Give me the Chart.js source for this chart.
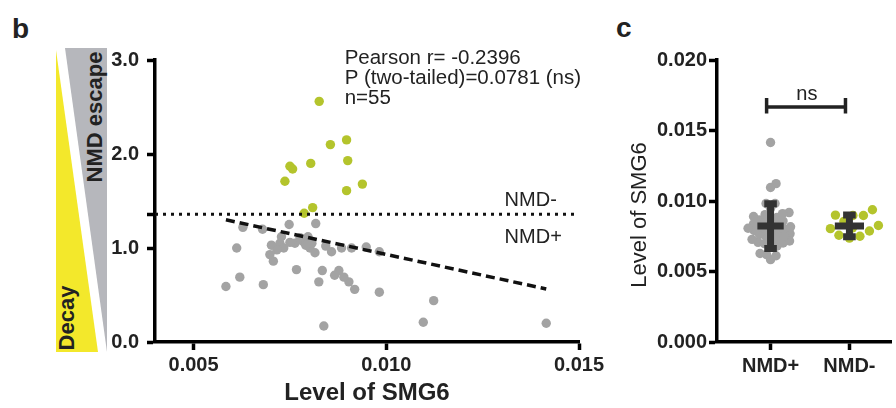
<!DOCTYPE html>
<html><head><meta charset="utf-8">
<script src="https://cdn.jsdelivr.net/npm/chart.js@4.4.1/dist/chart.umd.min.js"></script>
<style>
html,body{margin:0;padding:0;background:#fff;}
#wrap{position:relative;width:896px;height:408px;overflow:hidden;}
#deco{position:absolute;left:0;top:0;}
#left{position:absolute;left:0;top:0;}
#right{position:absolute;left:610px;top:0;}
</style></head><body>
<div id="wrap">
<svg id="deco" width="896" height="408" font-family="Liberation Sans, Arial, sans-serif">
  <polygon points="56,50 56,352 98,352" fill="#f3e82b"/>
  <polygon points="65,48 107,48 107,352" fill="#b6b7bc"/>
  <text x="12" y="38" font-size="28" font-weight="bold" fill="#222">b</text>
  <text x="616" y="37" font-size="28" font-weight="bold" fill="#222">c</text>
  <text transform="translate(94,117) rotate(-90)" text-anchor="middle" dominant-baseline="central" font-size="22" font-weight="bold" fill="#222">NMD escape</text>
  <text transform="translate(66,318) rotate(-90)" text-anchor="middle" dominant-baseline="central" font-size="22" font-weight="bold" fill="#222">Decay</text>
</svg>
<canvas id="left" width="610" height="408"></canvas>
<canvas id="right" width="286" height="408"></canvas>
</div>
<script>
// ---------- data ----------
const grayLevel = [0.00584,0.00620,0.00612,0.00628,0.00679,0.00681,0.00707,0.00702,0.00724,0.00728,
  0.00748,0.00767,0.00763,0.00784,0.00797,0.00802,0.00815,0.00817,0.00834,0.00825,
  0.00858,0.00877,0.00866,0.00884,0.00903,0.00918,0.00910,0.00948,0.00982,0.00982,
  0.00838,0.01123,0.01096,0.01415,0.00791,0.00776,0.00734,0.00716,0.00807,0.00890,
  0.00750,0.00698,0.00843];
const grayRatio = [0.59,0.69,1.00,1.22,1.20,0.61,0.86,1.03,1.05,1.12,
  1.25,0.77,1.05,1.07,1.12,1.00,0.95,1.26,0.76,0.64,
  0.96,0.76,0.71,1.00,0.64,0.56,1.00,1.01,0.96,0.53,
  0.17,0.44,0.21,0.20,1.03,1.11,1.00,0.98,1.05,0.69,
  1.06,0.93,1.02];
const greenLevel = [0.00826,0.00855,0.00897,0.00750,0.00757,0.00804,0.00900,0.00737,0.00938,0.00897,0.00787,0.00809];
const greenRatio = [2.56,2.10,2.15,1.87,1.84,1.90,1.93,1.71,1.68,1.61,1.37,1.43];
const threshold = 1.36;
const regressionX = [0.00584,0.01415];
const regressionY = [1.30,0.564];
const xTicksLeft = [0.005,0.010,0.015];
const yTicksLeft = [0,1,2,3];
const categories = ['NMD+','NMD-'];
const groupMean = [0.00822,0.00823];
const groupSD = [0.00159,0.00077];
const yTicksRight = [0,0.005,0.010,0.015,0.020];
const statsText = ['Pearson r= -0.2396','P (two-tailed)=0.0781 (ns)','n=55'];

// ---------- styles ----------
const F = '"Liberation Sans", Arial, sans-serif';
const GRAY = '#a3a3a3', GREEN = '#b4c42c', INK = '#222';
const axisCommon = {
  border:{display:true,color:'#000',width:3.5},
  grid:{display:true,drawOnChartArea:false,drawTicks:true,tickLength:8,tickWidth:3.5,tickColor:'#000'}
};

// ---------- left chart ----------
const leftText = {
  id:'leftText',
  afterDraw(chart){
    const {ctx, scales:{x,y}} = chart;
    ctx.save();
    ctx.fillStyle = INK;
    ctx.font = '20.5px ' + F;
    ctx.textBaseline = 'middle';
    ctx.textAlign = 'left';
    const sx = x.getPixelForValue(0.00892);
    [3.02,2.80,2.59].forEach((v,i)=>ctx.fillText(statsText[i], sx, y.getPixelForValue(v)));
    ctx.font = '20px ' + F;
    const nx = x.getPixelForValue(0.01307);
    ctx.fillText('NMD-', nx, y.getPixelForValue(1.51));
    ctx.fillText('NMD+', nx, y.getPixelForValue(1.117));
    ctx.restore();
  }
};

new Chart(document.getElementById('left'), {
  type:'scatter',
  data:{datasets:[
    {label:'threshold', showLine:true, data:[{x:0.004,y:threshold},{x:0.015,y:threshold}],
      borderColor:'#111', borderWidth:3, borderDash:[3,5], pointRadius:0, order:0},
    {label:'regression', showLine:true, data:regressionX.map((v,i)=>({x:v,y:regressionY[i]})),
      borderColor:'#111', borderWidth:3.5, borderDash:[9,5], pointRadius:0, order:1},
    {label:'NMD-', data:greenLevel.map((v,i)=>({x:v,y:greenRatio[i]})),
      backgroundColor:GREEN, borderWidth:0, pointRadius:4.7, order:2},
    {label:'NMD+', data:grayLevel.map((v,i)=>({x:v,y:grayRatio[i]})),
      backgroundColor:GRAY, borderWidth:0, pointRadius:4.7, order:3}
  ]},
  options:{
    responsive:false, animation:false, events:[],
    layout:{padding:{left:0,top:60,right:31,bottom:0}},
    plugins:{legend:{display:false},tooltip:{enabled:false}},
    scales:{
      x:{type:'linear',min:0.004,max:0.015,...axisCommon,
        afterBuildTicks:s=>{s.ticks = xTicksLeft.map(v=>({value:v}));},
        afterFit:s=>{s.height = 66;},
        ticks:{font:{family:F,size:20,weight:'bold'},color:INK,padding:3,maxRotation:0,callback:v=>v.toFixed(3)},
        title:{display:true,text:'Level of SMG6',font:{family:F,size:24,weight:'bold'},color:INK,padding:{top:0,bottom:0}}},
      y:{type:'linear',min:0,max:3,...axisCommon,
        afterBuildTicks:s=>{s.ticks = yTicksLeft.concat([threshold]).sort((a,b)=>a-b).map(v=>({value:v}));},
        afterFit:s=>{s.width = 155;},
        ticks:{font:{family:F,size:20,weight:'bold'},color:INK,padding:8,callback:v=>Number.isInteger(v)?v.toFixed(1):''}}
    }
  },
  plugins:[leftText]
});

// ---------- right chart ----------
function errorPath(cx, m, sd, halfBar, halfCap){
  return [{x:cx-halfBar,y:m},{x:cx+halfBar,y:m},{x:cx,y:null},
          {x:cx,y:m+sd},{x:cx,y:m-sd},{x:cx,y:null},
          {x:cx-halfCap,y:m+sd},{x:cx+halfCap,y:m+sd},{x:cx,y:null},
          {x:cx-halfCap,y:m-sd},{x:cx+halfCap,y:m-sd}];
}
const rightText = {
  id:'rightText',
  afterDraw(chart){
    const {ctx, scales:{x,y}} = chart;
    ctx.save();
    ctx.fillStyle = INK;
    ctx.font = '20px ' + F;
    ctx.textAlign = 'center';
    ctx.textBaseline = 'middle';
    ctx.fillText('ns', x.getPixelForValue(1.46), y.getPixelForValue(0.01752));
    ctx.translate(30, 215);
    ctx.rotate(-Math.PI/2);
    ctx.font = '22px ' + F;
    ctx.fillText('Level of SMG6', 0, 0);
    ctx.restore();
  }
};

const rightChart = new Chart(document.getElementById('right'), {
  type:'scatter',
  data:{datasets:[
    {label:'NMD+ mean±SD', showLine:true, spanGaps:false, data:errorPath(1,groupMean[0],groupSD[0],0.167,0.08),
      borderColor:'#333', borderWidth:7, borderCapStyle:'butt', pointRadius:0, order:0},
    {label:'NMD- mean±SD', showLine:true, spanGaps:false, data:errorPath(2,groupMean[1],groupSD[1],0.185,0.08),
      borderColor:'#333', borderWidth:7, borderCapStyle:'butt', pointRadius:0, order:1},
    {label:'bracket', showLine:true, spanGaps:false,
      data:[{x:0.95,y:0.0173},{x:0.95,y:0.0162},{x:0.95,y:null},{x:0.95,y:0.01667},{x:1.95,y:0.01667},{x:1.95,y:null},{x:1.95,y:0.0173},{x:1.95,y:0.0162}],
      borderColor:'#222', borderWidth:3.5, pointRadius:0, order:2},
    {label:'NMD+', data:grayLevel.map(v=>({x:1,y:v})), backgroundColor:GRAY, borderWidth:0, pointRadius:4.7, order:3},
    {label:'NMD-', data:greenLevel.map(v=>({x:2,y:v})), backgroundColor:GREEN, borderWidth:0, pointRadius:4.7, order:4}
  ]},
  options:{
    responsive:false, animation:false, events:[],
    layout:{padding:{left:0,top:60,right:0,bottom:0}},
    plugins:{legend:{display:false},tooltip:{enabled:false}},
    scales:{
      x:{type:'linear',min:0.321,max:2.531,...axisCommon,
        afterBuildTicks:s=>{s.ticks = categories.map((c,i)=>({value:i+1}));},
        afterFit:s=>{s.height = 66;},
        ticks:{font:{family:F,size:20,weight:'bold'},color:INK,padding:4,maxRotation:0,callback:v=>categories[Math.round(v)-1] || ''}},
      y:{type:'linear',min:0,max:0.02,...axisCommon,
        afterBuildTicks:s=>{s.ticks = yTicksRight.map(v=>({value:v}));},
        afterFit:s=>{s.width = 107;},
        ticks:{font:{family:F,size:20,weight:'bold'},color:INK,padding:2,callback:v=>v.toFixed(3)}}
    }
  },
  plugins:[rightText]
});

// beeswarm layout of the dots (horizontal spread computed from the values, in pixel space)
function swarm(values, center, diameter){
  const xs = rightChart.scales.x, ys = rightChart.scales.y;
  const pxPerUnit = xs.getPixelForValue(1) - xs.getPixelForValue(0);
  const order = values.map((v,i)=>i).sort((a,b)=>values[a]-values[b]);
  const placed = [], out = new Array(values.length);
  for (const i of order){
    const py = ys.getPixelForValue(values[i]);
    let off = 0;
    for (let k=0;k<400;k++){
      const cand = (k%2 ? 1 : -1) * Math.ceil(k/2) * 0.5;
      if (placed.every(p => (p.x-cand)**2 + (p.y-py)**2 >= diameter*diameter)){ off = cand; break; }
    }
    placed.push({x:off,y:py});
    out[i] = {x:center + off/pxPerUnit, y:values[i]};
  }
  return out;
}
rightChart.data.datasets[3].data = swarm(grayLevel, 1, 6.4);
rightChart.data.datasets[4].data = swarm(greenLevel, 2, 10.5);
rightChart.update('none');
</script>
</body></html>
